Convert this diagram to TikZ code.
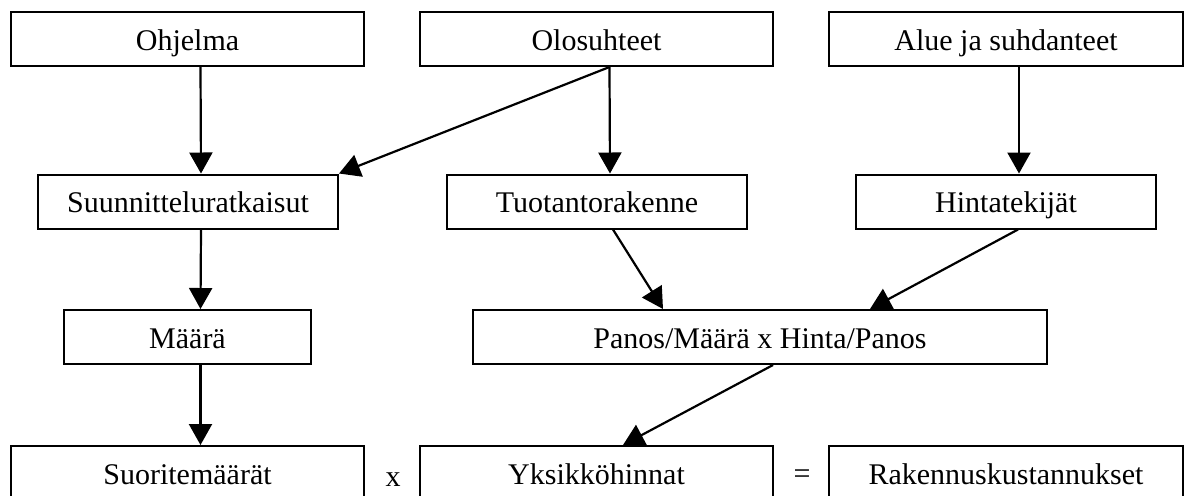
\documentclass[tikz,border=0pt]{standalone}
\usepackage{fontspec}
\setmainfont{Liberation Serif}
\usepackage{tikz}
\usetikzlibrary{arrows.meta}

\begin{document}
\begin{tikzpicture}[x=0.5pt,y=-0.5pt,
    laatikko/.style={draw, line width=1pt, inner sep=0pt, minimum height=27pt, text height=1.15em, text depth=0.05em, font=\fontsize{15}{18}\selectfont},
    merkki/.style={font=\fontsize{15}{18}\selectfont, text height=0.95em, text depth=0.1em},
    nuoli/.style={line width=1.1pt, -{Triangle[length=10.5pt,width=11.5pt]}}]
                \useasboundingbox (0,0) rectangle (1191,495);
                % 上层
                \node[laatikko, minimum width=176.5pt] (ohj) at (187.5,39) {Ohjelma};
                \node[laatikko, minimum width=176.5pt] (olo) at (596.5,39) {Olosuhteet};
                \node[laatikko, minimum width=177pt] (alue) at (1006,39) {Alue ja suhdanteet};
                % 中层
                \node[laatikko, minimum width=150pt] (suun) at (188,201.5) {Suunnitteluratkaisut};
                \node[laatikko, minimum width=150pt] (tuot) at (597,201.5) {Tuotantorakenne};
                \node[laatikko, minimum width=150pt] (hint) at (1006,201.5) {Hintatekijät};
                \node[laatikko, minimum width=123.5pt] (maara) at (187.5,337) {Määrä};
                \node[laatikko, minimum width=287pt] (panos) at (760,337) {Panos/Määrä x Hinta/Panos};
                % 下层
                \node[laatikko, minimum width=176.5pt] (suor) at (187.5,473) {Suoritemäärät};
                \node[laatikko, minimum width=176.5pt] (yks) at (596.5,473) {Yksikköhinnat};
                \node[laatikko, minimum width=177pt] (rak) at (1006,473) {Rakennuskustannukset};
                \node[merkki] (kerto) at (393,478) {x};
                \node[merkki] (yhta) at (802,475) {=};
                % 绘制箭头
                \draw[nuoli] ([xshift=6.5pt]ohj.south) -- ([xshift=6.5pt]suun.north);
                \draw[nuoli] ([xshift=6.5pt]olo.south) -- (suun.north east);
                \draw[nuoli] ([xshift=6.5pt]olo.south) -- ([xshift=6.5pt]tuot.north);
                \draw[nuoli] ([xshift=6.5pt]alue.south) -- ([xshift=6.5pt]hint.north);
                \draw[nuoli] ([xshift=6.5pt]suun.south) -- ([xshift=6.5pt]maara.north);
                \draw[nuoli] ([xshift=6.5pt]maara.south) -- ([xshift=6.5pt]suor.north);
                \draw[nuoli] ([xshift=8pt]tuot.south) -- ([xshift=-48.5pt]panos.north);
                \draw[nuoli] ([xshift=6pt]hint.south) -- ([xshift=55pt]panos.north);
                \draw[nuoli] ([xshift=6.5pt]panos.south) -- ([xshift=13.25pt]yks.north);
\end{tikzpicture}
\end{document}
